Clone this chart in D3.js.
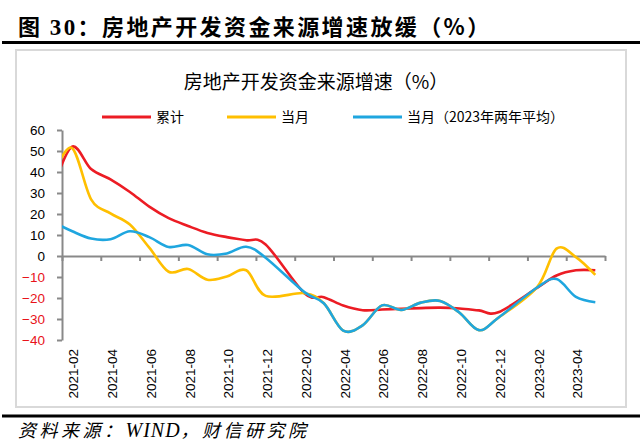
<!DOCTYPE html>
<meta charset="utf-8">
<head>
<style>
body { margin: 0; background: #fff; }
svg text { font-family: "Liberation Sans", "Noto Sans CJK SC", sans-serif; }
.cjk { font-family: "Noto Sans CJK SC", sans-serif; }
</style>
</head>
<script src="https://d3js.org/d3.v7.min.js"></script>
<div id="chart"></div>
<script>

// months with data (Jan is merged into Feb in 2022/2023; 2021-01 only feeds the clipped start)
var months = ["2021-01","2021-02","2021-03","2021-04","2021-05","2021-06","2021-07","2021-08",
  "2021-09","2021-10","2021-11","2021-12",
  "2022-02","2022-03","2022-04","2022-05","2022-06","2022-07","2022-08","2022-09","2022-10","2022-11","2022-12",
  "2023-02","2023-03","2023-04","2023-05"];

// 累计
var cumulative = [31, 52, 41.4, 36.5, 30.5, 23.5, 18.0, 14.3, 11.0, 9.0, 7.5, 5.5,
  -17.7, -19.6, -23.6, -25.8, -25.5, -25.1, -24.8, -24.6, -25.0, -25.9, -26.8,
  -15.2, -9.3, -6.8, -6.8];

// 当月
var monthly = [37.4, 51.5, 27, 20.3, 15, 4, -7.5, -6.2, -11.3, -9.8, -6.8, -19,
  -17.7, -22.5, -35.5, -33, -23.5, -25.7, -22.2, -21.4, -27, -35.3, -29.4,
  -14.8, 3.5, -0.5, -9];

// 当月（2023年两年平均）
var twoYearAvg = [16.3, 11.9, 8.3, 8.0, 11.8, 9.0, 4.3, 5.2, 0.8, 1.2, 4.4, -0.8,
  -17.2, -22.5, -35.5, -33, -23.5, -25.7, -22.2, -21.4, -27, -35.3, -29.4,
  -15, -11, -19.5, -22];

var xTickLabels = ["2021-02","2021-04","2021-06","2021-08","2021-10","2021-12","2022-02",
  "2022-04","2022-06","2022-08","2022-10","2022-12","2023-02","2023-04"];
var yTicks = [60, 50, 40, 30, 20, 10, 0, -10, -20, -30, -40];

var seriesNames = ["累计", "当月", "当月（2023年两年平均）"];
var seriesColors = ["#ec1c24", "#ffbf00", "#1fa6df"];

var width = 640, height = 444;

var svg = d3.select("#chart").append("svg")
  .attr("width", width)
  .attr("height", height);

// month index from 2021-02
function monthIndex(s) {
  var p = s.split("-");
  return (+p[0] - 2021) * 12 + (+p[1] - 2);
}

var x = d3.scaleLinear().domain([0, 28]).range([62, 605]);
var y = d3.scaleLinear().domain([-40, 60]).range([340, 130]);

// page title
var title = svg.append("text")
  .attr("class", "cjk")
  .attr("x", 18)
  .attr("y", 35)
  .attr("font-size", "22px")
  .attr("font-weight", "bold")
  .attr("letter-spacing", "2.4px");
title.append("tspan").text("图 ");
title.append("tspan").attr("font-family", "Liberation Serif").attr("font-size", "23px").text("30");
title.append("tspan").text("：房地产开发资金来源增速放缓（%）");

svg.append("line")
  .attr("x1", 2).attr("x2", 640)
  .attr("y1", 42.5).attr("y2", 42.5)
  .attr("stroke", "#000").attr("stroke-width", 3);

// chart frame
svg.append("rect")
  .attr("x", 16).attr("y", 50)
  .attr("width", 610).attr("height", 357)
  .attr("fill", "none")
  .attr("stroke", "#d9d9d9")
  .attr("stroke-width", 2);

svg.append("text")
  .attr("class", "cjk")
  .attr("x", 316)
  .attr("y", 89)
  .attr("text-anchor", "middle")
  .attr("font-size", "19px")
  .text("房地产开发资金来源增速（%）");

// legend
var legendX = [102, 227, 353];
var legend = svg.selectAll(".leg")
  .data(seriesNames)
  .enter().append("g")
  .attr("class", "leg")
  .attr("transform", function(d, i) { return "translate(" + legendX[i] + ",117)"; });
legend.append("line")
  .attr("x1", 0).attr("x2", 49)
  .attr("stroke", function(d, i) { return seriesColors[i]; })
  .attr("stroke-width", 3);
legend.append("text")
  .attr("class", "cjk")
  .attr("x", 54)
  .attr("y", 5)
  .attr("font-size", "14px")
  .text(function(d) { return d; });

// Y axis
var yAxis = svg.append("g")
  .attr("transform", "translate(" + x(0) + ",0)")
  .call(d3.axisLeft(y).tickValues(yTicks).tickSize(5).tickSizeOuter(0).tickPadding(12));
yAxis.selectAll("text")
  .attr("font-size", "13.5px")
  .attr("font-family", "Liberation Sans")
  .attr("fill", function(d) { return d < 0 ? "#e8121a" : "#000"; });

// X axis on the zero line
var xAxis = svg.append("g")
  .attr("transform", "translate(0," + y(0) + ")")
  .call(d3.axisBottom(x).tickValues(d3.range(0, 29, 2)).tickSize(5).tickSizeOuter(0).tickFormat(""));

svg.selectAll(".domain, .tick line")
  .attr("stroke", "#898989")
  .attr("stroke-width", 2);

// X labels at the bottom, rotated
svg.selectAll(".xlab")
  .data(xTickLabels)
  .enter().append("text")
  .attr("class", "xlab")
  .attr("transform", function(d) {
    return "translate(" + (x(monthIndex(d) + 0.5) + 2) + ",349) rotate(-90)";
  })
  .attr("text-anchor", "end")
  .attr("dominant-baseline", "central")
  .attr("font-size", "13.5px")
  .attr("fill", "#000")
  .text(function(d) { return d; });

// lines
svg.append("clipPath").attr("id", "plotclip")
  .append("rect").attr("x", 62).attr("y", 0).attr("width", 545).attr("height", height);

var line = d3.line()
  .x(function(d) { return x(monthIndex(d[0]) + 0.5); })
  .y(function(d) { return y(d[1]); })
  .curve(d3.curveCatmullRom.alpha(0));

var allSeries = [cumulative, monthly, twoYearAvg];
svg.append("g")
  .attr("clip-path", "url(#plotclip)")
  .selectAll("path")
  .data(allSeries)
  .enter().append("path")
  .attr("d", function(vals) { return line(months.map(function(m, i) { return [m, vals[i]]; })); })
  .attr("fill", "none")
  .attr("stroke", function(d, i) { return seriesColors[i]; })
  .attr("stroke-width", 2.6)
  .attr("stroke-linejoin", "round");

// bottom rule and source
svg.append("line")
  .attr("x1", 2).attr("x2", 640)
  .attr("y1", 416).attr("y2", 416)
  .attr("stroke", "#000").attr("stroke-width", 3);

var source = svg.append("text")
  .attr("class", "cjk")
  .attr("x", 18)
  .attr("y", 437)
  .attr("font-size", "18px")
  .attr("font-style", "italic")
  .attr("letter-spacing", "3.5px");
source.append("tspan").text("资料来源：");
source.append("tspan").attr("font-family", "Liberation Serif").attr("font-size", "20px").attr("letter-spacing", "1px").text("WIND");
source.append("tspan").text("，财信研究院");

</script>
